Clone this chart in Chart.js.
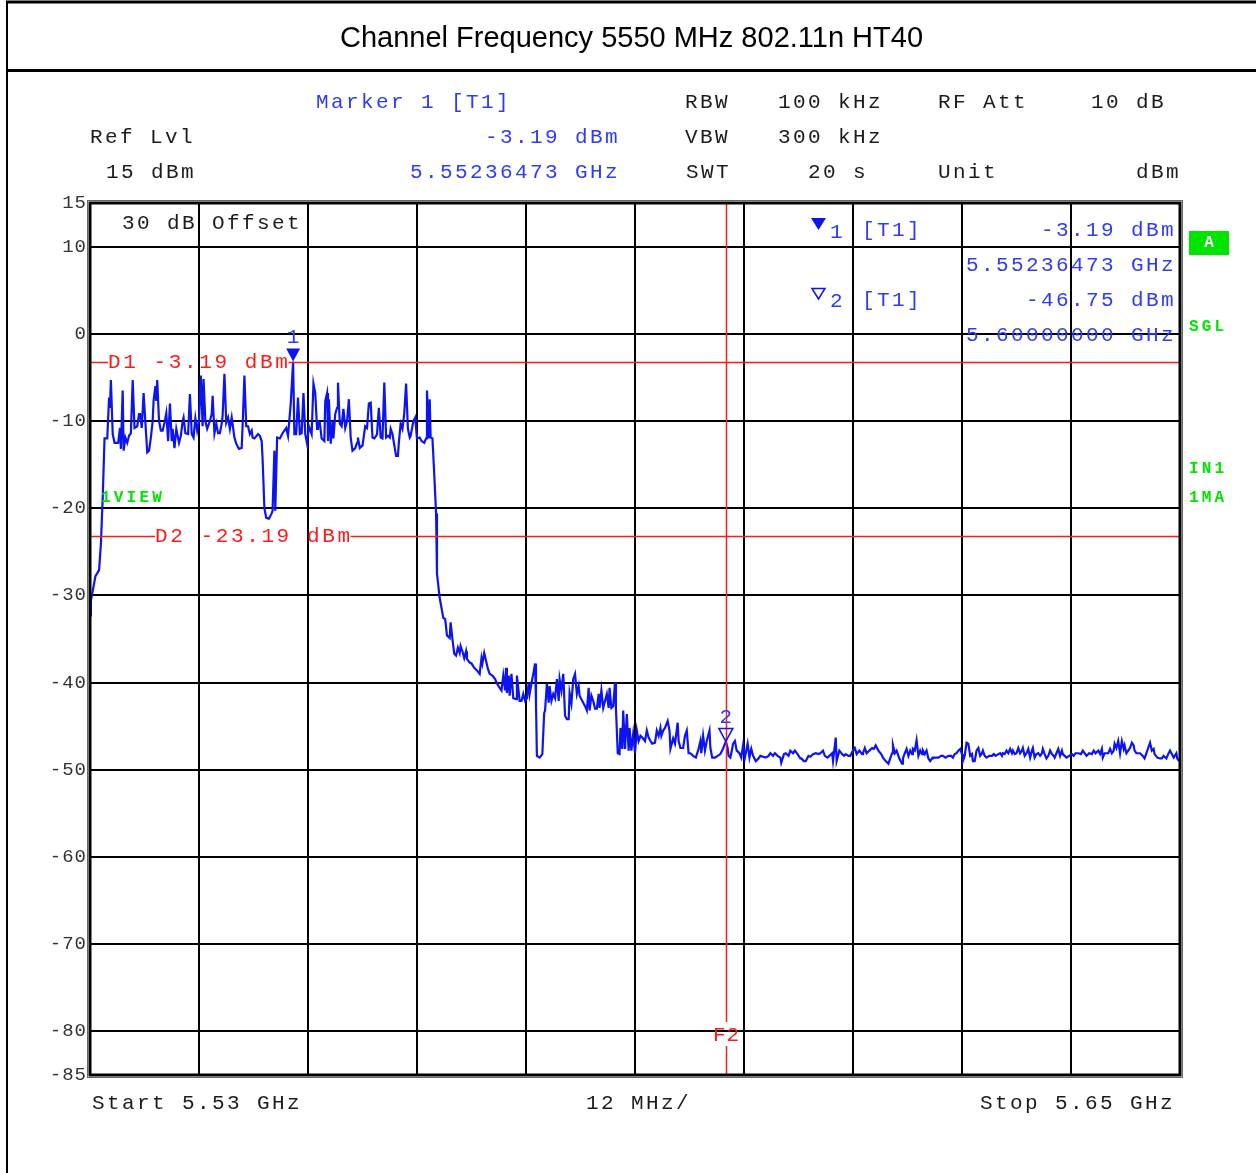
<!DOCTYPE html>
<html><head><meta charset="utf-8">
<script src="https://cdn.jsdelivr.net/npm/chart.js@4"></script>
<style>
html,body{margin:0;padding:0;background:#fff;}
#wrap{position:relative;width:1256px;height:1173px;overflow:hidden;background:#fff;}
#title{position:absolute;left:7px;top:3px;width:1249px;height:66px;text-align:center;font-family:"Liberation Sans",Arial,sans-serif;font-size:29px;line-height:68px;color:#000;}
canvas{position:absolute;left:0;top:0;}
</style></head><body>
<div id="wrap"><canvas id="c" width="1256" height="1173"></canvas><div id="title">Channel Frequency 5550 MHz 802.11n HT40</div></div>
<script>
// ---------------- DATA ----------------
const startMHz = 5530, stopMHz = 5650;
const xGridMHz = [5530, 5542, 5554, 5566, 5578, 5590, 5602, 5614, 5626, 5638, 5650];
const yTicks = [15, 10, 0, -10, -20, -30, -40, -50, -60, -70, -80, -85];

// trace: [frequency MHz, level dBm]
const bandTrace = [
[5530.0,-32.3],[5530.1,-30.6],[5530.6,-27.8],[5531.0,-27.1],[5531.2,-24.1],[5531.4,-18.8],[5531.6,-12.0],[5531.9,-12.0],
[5532.1,-7.3],[5532.2,-8.5],[5532.3,-5.3],[5532.5,-11.5],[5532.7,-12.5],[5533.1,-12.5],[5533.3,-10.8],[5533.4,-13.2],
[5533.6,-6.5],[5533.7,-13.4],[5533.9,-11.9],[5534.1,-12.5],[5534.3,-11.7],[5534.5,-11.4],[5534.7,-5.3],[5534.9,-10.8],
[5535.2,-10.6],[5535.4,-9.2],[5535.5,-9.1],[5535.7,-10.8],[5535.9,-6.8],[5536.2,-11.9],[5536.3,-13.6],[5536.5,-13.4],
[5536.7,-11.9],[5536.9,-10.0],[5537.0,-7.7],[5537.2,-6.0],[5537.3,-7.7],[5537.4,-5.3],[5537.6,-10.0],[5537.8,-11.1],
[5538.0,-11.1],[5538.2,-10.2],[5538.4,-9.1],[5538.6,-12.3],[5538.8,-8.0],[5539.0,-12.3],[5539.1,-10.9],[5539.3,-13.1],
[5539.5,-10.9],[5539.8,-12.5],[5540.0,-11.7],[5540.2,-10.0],[5540.3,-9.6],[5540.5,-11.4],[5540.8,-11.5],[5541.0,-6.9],
[5541.2,-11.5],[5541.4,-11.9],[5541.6,-9.7],[5541.8,-11.1],[5542.0,-10.0],[5542.2,-4.8],[5542.4,-10.6],[5542.5,-5.2],
[5542.7,-10.0],[5542.9,-10.9],[5543.2,-10.0],[5543.4,-9.2],[5543.5,-7.1],[5543.7,-11.4],[5543.9,-10.3],[5544.1,-11.4],
[5544.3,-11.4],[5544.5,-10.3],[5544.6,-9.4],[5544.8,-4.6],[5545.0,-10.2],[5545.2,-9.6],[5545.4,-10.9],[5545.6,-9.6],
[5545.9,-11.9],[5546.1,-12.6],[5546.4,-13.2],[5546.7,-13.1],[5546.8,-10.6],[5547.0,-4.8],[5547.2,-10.6],[5547.4,-10.6],
[5547.6,-11.5],[5547.8,-11.1],[5547.9,-11.9],[5548.1,-12.0],[5548.5,-11.5],[5548.7,-11.7],[5548.9,-12.3],[5549.0,-14.3],
[5549.2,-20.0],[5549.4,-21.1],[5549.7,-21.2],[5550.0,-20.6],[5550.1,-20.3],[5550.3,-13.4],[5550.4,-20.3],[5550.6,-11.9],
[5550.9,-12.0],[5551.2,-11.4],[5551.6,-10.8],[5551.8,-11.7],[5551.9,-11.7],[5552.1,-8.0],[5552.36,-3.19],[5552.5,-11.5],
[5552.7,-11.5],[5552.9,-7.3],[5553.1,-11.5],[5553.3,-11.4],[5553.5,-6.8],[5553.7,-11.5],[5553.9,-12.6],[5554.1,-10.6],
[5554.4,-11.5],[5554.6,-5.7],[5554.8,-6.8],[5555.0,-10.9],[5555.1,-10.0],[5555.3,-10.2],[5555.5,-12.0],[5555.8,-12.3],
[5555.9,-7.7],[5556.1,-6.8],[5556.2,-12.3],[5556.3,-7.5],[5556.5,-12.6],[5556.7,-10.0],[5556.8,-12.0],[5557.0,-9.2],
[5557.2,-8.5],[5557.3,-5.6],[5557.5,-10.3],[5557.7,-10.6],[5557.9,-8.6],[5558.1,-10.8],[5558.3,-10.0],[5558.5,-7.5],
[5558.7,-11.9],[5558.9,-13.4],[5559.2,-13.1],[5559.4,-12.5],[5559.5,-11.9],[5559.7,-13.1],[5560.0,-12.8],[5560.3,-10.6],
[5560.5,-10.8],[5560.7,-8.0],[5560.9,-7.9],[5561.1,-11.9],[5561.3,-12.0],[5561.5,-11.7],[5561.6,-11.5],[5561.8,-8.5],
[5562.0,-11.9],[5562.2,-12.0],[5562.4,-5.6],[5562.6,-11.9],[5562.8,-11.7],[5563.0,-11.9],[5563.1,-10.9],[5563.3,-11.5],
[5563.5,-12.8],[5563.7,-14.0],[5563.9,-14.0],[5564.0,-12.5],[5564.2,-10.3],[5564.4,-10.9],[5564.6,-9.1],[5564.8,-5.7],
[5565.0,-10.9],[5565.2,-11.9],[5565.3,-11.7],[5565.6,-10.0],[5565.8,-9.6],[5566.0,-12.0],[5566.3,-11.9],[5566.5,-12.3],
[5566.8,-12.5],[5567.0,-12.0],[5567.1,-6.5],[5567.3,-12.0],[5567.4,-7.5],[5567.5,-11.9],[5567.7,-12.0],[5567.9,-16.1],
[5568.1,-20.6],[5568.2,-27.5],[5568.5,-30.3],[5568.9,-32.6],[5569.1,-32.7],[5569.3,-34.6]
];
const skirtTrace = [
[5569.6,-34.9],[5569.7,-33.1],[5569.9,-35.0],[5570.1,-36.7],[5570.3,-36.9],[5570.5,-36.0],[5570.7,-36.6],[5570.8,-35.8],
[5571.0,-36.4],[5571.2,-37.2],[5571.4,-36.4],[5571.5,-37.3],[5571.8,-37.7],[5572.0,-37.8],[5572.3,-38.3],[5572.6,-38.6],
[5572.9,-39.0],[5573.1,-37.2],[5573.2,-37.8],[5573.4,-36.6],[5573.6,-37.5],[5573.8,-38.4],[5574.0,-39.0],[5574.3,-39.2],
[5574.6,-39.6],[5574.8,-40.1],[5575.1,-40.6],[5575.3,-40.9],[5575.5,-39.2],[5575.7,-40.9],[5575.8,-38.3],[5575.9,-41.2],
[5576.1,-39.2],[5576.2,-41.5],[5576.4,-39.0],[5576.6,-41.8],[5576.9,-41.9],[5577.0,-39.2],[5577.3,-42.1],[5577.5,-42.1],
[5577.7,-41.3],[5577.9,-42.1],[5578.1,-41.8],[5578.3,-40.0],[5578.4,-41.3],[5578.6,-40.1],[5578.8,-39.0],[5579.0,-37.8],
[5579.1,-42.4],[5579.2,-48.4],[5579.5,-48.6],[5579.8,-48.2],[5580.0,-43.5],[5580.1,-43.2],[5580.3,-40.1],[5580.5,-42.3],
[5580.6,-40.4],[5580.8,-42.1],[5581.0,-41.3],[5581.2,-41.8],[5581.4,-39.6],[5581.6,-42.1],[5581.7,-39.6],[5581.9,-40.9],
[5582.1,-39.0],[5582.3,-43.8],[5582.5,-44.2],[5582.7,-44.2],[5582.8,-41.2],[5583.0,-42.4],[5583.2,-39.6],[5583.4,-39.0],
[5583.6,-41.3],[5583.8,-40.4],[5583.9,-41.5],[5584.2,-42.1],[5584.5,-42.7],[5584.7,-43.2],[5584.9,-40.6],[5585.0,-43.2],
[5585.2,-41.5],[5585.4,-42.1],[5585.6,-43.0],[5585.8,-43.0],[5586.0,-41.3],[5586.1,-42.9],[5586.3,-40.9],[5586.5,-42.9],
[5586.7,-42.1],[5586.9,-41.3],[5587.1,-42.9],[5587.2,-40.6],[5587.4,-42.9],[5587.6,-42.7],[5587.8,-40.0],[5587.9,-42.9],
[5588.1,-48.1],[5588.3,-48.2],[5588.4,-45.2],[5588.6,-47.6],[5588.7,-43.2],[5588.9,-47.6],[5589.1,-43.6],[5589.3,-47.8],
[5589.4,-45.2],[5589.6,-47.8],[5589.8,-45.9],[5590.0,-48.1],[5590.2,-45.5],[5590.4,-46.7],[5590.6,-46.1],[5590.8,-46.3],
[5591.1,-46.7],[5591.3,-45.5],[5591.5,-46.3],[5591.7,-46.7],[5591.9,-47.0],[5592.2,-46.9],[5592.4,-45.5],[5592.6,-46.1],
[5592.8,-45.2],[5592.9,-46.1],[5593.1,-45.5],[5593.3,-45.2],[5593.6,-44.4],[5593.8,-45.5],[5593.9,-47.6],[5594.2,-46.4],
[5594.4,-47.0],[5594.7,-44.6],[5594.8,-46.7],[5595.0,-47.5],[5595.3,-47.5],[5595.5,-46.1],[5595.7,-45.5],[5595.9,-48.1],
[5596.1,-48.1],[5596.4,-48.4],[5596.7,-48.6],[5597.0,-47.6],[5597.2,-46.7],[5597.3,-48.1],[5597.5,-46.1],[5597.7,-47.8],
[5597.9,-46.7],[5598.2,-45.5],[5598.3,-47.5],[5598.5,-48.6],[5598.8,-48.6],[5599.1,-48.4],[5599.4,-48.2],[5599.6,-47.8]
];
const floorTrace = [
[5600.0,-46.75],[5600.2,-47.5],[5600.3,-48.4],[5600.5,-48.6],[5600.6,-48.1],[5600.8,-47.0],[5601.0,-46.7],[5601.2,-47.8],
[5601.5,-48.1],[5601.7,-48.6],[5601.9,-47.2],[5602.1,-48.6],[5602.4,-47.0],[5602.6,-48.6],[5602.8,-47.6],[5603.0,-48.4],
[5603.3,-49.0],[5603.6,-48.7],[5603.8,-48.4],[5604.1,-48.5],[5604.4,-48.6],[5604.7,-48.4],[5604.9,-48.1],[5605.2,-48.4],
[5605.4,-48.1],[5605.7,-48.4],[5606.0,-48.6],[5606.1,-49.2],[5606.4,-48.2],[5606.6,-48.1],[5606.9,-48.4],[5607.1,-47.8],
[5607.4,-48.1],[5607.6,-47.8],[5607.9,-48.2],[5608.2,-48.7],[5608.3,-48.7],[5608.6,-49.0],[5608.8,-49.0],[5609.1,-48.4],
[5609.3,-48.5],[5609.6,-48.2],[5609.9,-48.1],[5610.2,-48.2],[5610.4,-48.1],[5610.7,-47.8],[5610.9,-48.4],[5611.2,-48.6],
[5611.4,-48.4],[5611.7,-48.1],[5611.8,-49.0],[5612.1,-46.3],[5612.2,-49.0],[5612.5,-47.8],[5612.8,-48.2],[5613.0,-48.4],
[5613.2,-48.2],[5613.5,-48.4],[5613.7,-48.4],[5614.0,-47.8],[5614.2,-47.5],[5614.4,-48.2],[5614.7,-47.8],[5615.0,-48.2],
[5615.1,-48.1],[5615.3,-47.5],[5615.5,-48.1],[5615.8,-47.8],[5616.1,-47.5],[5616.3,-47.6],[5616.5,-47.2],[5616.8,-47.8],
[5617.1,-48.2],[5617.3,-48.6],[5617.6,-49.0],[5617.9,-49.3],[5618.1,-48.7],[5618.3,-48.1],[5618.4,-47.2],[5618.6,-48.1],
[5618.8,-47.8],[5619.1,-48.7],[5619.4,-49.3],[5619.5,-48.7],[5619.7,-48.1],[5619.9,-47.6],[5620.1,-48.4],[5620.3,-47.8],
[5620.5,-48.2],[5620.6,-47.6],[5620.8,-47.8],[5621.0,-46.6],[5621.2,-48.4],[5621.4,-47.8],[5621.6,-48.2],[5621.7,-47.8],
[5621.9,-48.2],[5622.1,-47.8],[5622.3,-48.7],[5622.5,-49.0],[5622.7,-48.7],[5622.8,-48.6],[5623.1,-48.6],[5623.4,-48.6],
[5623.7,-48.4],[5623.9,-48.4],[5624.2,-48.6],[5624.5,-48.4],[5624.8,-48.4],[5625.0,-48.6],[5625.2,-48.2],[5625.4,-48.1],
[5625.6,-47.8],[5625.8,-47.6],[5626.0,-48.2],[5626.1,-49.0],[5626.3,-48.4],[5626.5,-46.9],[5626.7,-47.0],[5626.9,-48.4],
[5627.1,-48.2],[5627.2,-49.0],[5627.4,-49.0],[5627.6,-47.8],[5627.8,-47.5],[5628.0,-48.4],[5628.2,-48.1],[5628.3,-47.8],
[5628.5,-48.4],[5628.7,-48.6],[5629.0,-48.4],[5629.3,-48.4],[5629.5,-48.2],[5629.7,-48.4],[5630.0,-48.2],[5630.2,-48.1],
[5630.4,-48.4],[5630.5,-48.1],[5630.7,-48.2],[5630.9,-47.8],[5631.1,-48.1],[5631.3,-47.6],[5631.5,-48.1],[5631.6,-47.8],
[5631.8,-48.2],[5632.0,-48.1],[5632.2,-47.5],[5632.4,-48.1],[5632.6,-47.8],[5632.7,-47.5],[5632.9,-48.4],[5633.1,-48.1],
[5633.3,-47.6],[5633.5,-48.6],[5633.7,-47.8],[5633.8,-47.5],[5634.0,-48.6],[5634.2,-48.2],[5634.4,-48.1],[5634.6,-48.4],
[5634.8,-48.1],[5634.9,-47.6],[5635.1,-48.2],[5635.3,-48.7],[5635.5,-48.4],[5635.7,-47.8],[5635.9,-48.2],[5636.1,-48.4],
[5636.2,-48.6],[5636.4,-48.1],[5636.6,-47.6],[5636.8,-48.4],[5637.0,-47.8],[5637.1,-48.2],[5637.3,-48.4],[5637.5,-48.6],
[5637.8,-48.4],[5638.1,-48.2],[5638.3,-48.4],[5638.5,-48.1],[5638.8,-48.1],[5639.1,-48.2],[5639.3,-47.8],[5639.5,-48.1],
[5639.7,-48.4],[5640.0,-48.1],[5640.3,-48.2],[5640.5,-47.8],[5640.7,-48.1],[5641.0,-47.8],[5641.2,-48.2],[5641.4,-47.6],
[5641.5,-48.6],[5641.7,-48.1],[5641.9,-48.1],[5642.1,-48.1],[5642.3,-47.6],[5642.5,-48.1],[5642.7,-47.8],[5642.8,-47.0],
[5643.0,-47.5],[5643.2,-46.7],[5643.4,-48.1],[5643.6,-46.7],[5643.8,-47.6],[5643.9,-47.2],[5644.1,-48.1],[5644.3,-47.8],
[5644.5,-47.5],[5644.7,-46.9],[5644.9,-47.2],[5645.0,-47.8],[5645.2,-48.1],[5645.6,-48.1],[5645.9,-48.4],[5646.1,-48.7],
[5646.3,-48.1],[5646.5,-47.5],[5646.7,-46.9],[5646.9,-47.8],[5647.1,-47.6],[5647.2,-48.2],[5647.5,-48.6],[5647.8,-48.7],
[5648.0,-48.7],[5648.2,-48.4],[5648.5,-48.7],[5648.7,-48.2],[5648.9,-47.8],[5649.1,-48.2],[5649.3,-48.6],[5649.6,-48.1],
[5649.7,-48.7],[5649.9,-49.0]
];

const markerFreqs = [5552.36473, 5600.0];
const markerLevels = [-3.19, -46.75];
const displayLines = [-3.19, -23.19];
const displayLineLabels = ['D1 -3.19 dBm', 'D2 -23.19 dBm'];
const freqLine = 5600.0;

// ---------------- STYLE ----------------
const MONO = '"Liberation Mono","DejaVu Sans Mono",monospace';
const BLUE = '#2f3cf2', TRACE = '#0c14f2', RED = '#ff1a1a', GREEN = '#00e400', INK = '#1c1c1c';
const FS = 21, LS = 2.4;

function txt(ctx, s, x, y, o) {
  o = o || {};
  ctx.save();
  ctx.font = (o.bold ? 'bold ' : '') + (o.size || FS) + 'px ' + MONO;
  ctx.letterSpacing = (o.ls !== undefined ? o.ls : LS) + 'px';
  ctx.fillStyle = o.color || INK;
  ctx.textAlign = o.align || 'left';
  ctx.textBaseline = 'middle';
  ctx.fillText(s, x, y + 1);
  ctx.restore();
}

const frame = {
  id: 'frame',
  beforeDraw(chart) {
    const c = chart.ctx;
    c.save();
    c.fillStyle = '#fff';
    c.fillRect(0, 0, chart.width, chart.height);
    c.strokeStyle = '#000';
    c.lineWidth = 3;
    c.beginPath(); c.moveTo(6, 2); c.lineTo(1256, 2); c.stroke();
    c.beginPath(); c.moveTo(6, 70.5); c.lineTo(1256, 70.5); c.stroke();
    c.lineWidth = 2;
    c.beginPath(); c.moveTo(7, 1); c.lineTo(7, 1173); c.stroke();
    c.restore();
    chart.ctx.letterSpacing = '1px';
  },
  afterDatasetsDraw(chart) {
    const c = chart.ctx, xs = chart.scales.x, ys = chart.scales.y, a = chart.chartArea;
    c.letterSpacing = '0px';
    // display lines D1 / D2
    const labelX = [108, 155];
    displayLines.forEach((v, i) => {
      const py = Math.round(ys.getPixelForValue(v)) + 0.5;
      c.save();
      c.font = FS + 'px ' + MONO; c.letterSpacing = (LS + 0.2) + 'px';
      const w = c.measureText(displayLineLabels[i]).width;
      c.strokeStyle = RED; c.lineWidth = 1.5;
      c.beginPath(); c.moveTo(a.left, py); c.lineTo(labelX[i], py); c.stroke();
      c.beginPath(); c.moveTo(labelX[i] + w - 2, py); c.lineTo(a.right, py); c.stroke();
      c.restore();
      txt(c, displayLineLabels[i], labelX[i], py - 1, {color: RED, ls: LS + 0.2});
    });
    // F2 frequency line
    const fx = Math.round(xs.getPixelForValue(freqLine)) + 0.5;
    c.save();
    c.strokeStyle = RED; c.lineWidth = 1.5;
    c.beginPath(); c.moveTo(fx, a.top); c.lineTo(fx, 1022); c.stroke();
    c.beginPath(); c.moveTo(fx, 1046); c.lineTo(fx, a.bottom); c.stroke();
    c.restore();
    txt(c, 'F2', fx, 1034, {color: RED, align: 'center', ls: 1});
    // markers
    markerFreqs.forEach((f, i) => {
      const px = xs.getPixelForValue(f), py = ys.getPixelForValue(markerLevels[i]);
      c.save();
      c.beginPath();
      c.moveTo(px - 7, py - 13); c.lineTo(px + 7, py - 13); c.lineTo(px, py); c.closePath();
      if (i === 0) { c.fillStyle = TRACE; c.fill(); }
      else { c.strokeStyle = TRACE; c.lineWidth = 1.5; c.stroke(); }
      c.restore();
      txt(c, String(i + 1), px, py - 25, {color: BLUE, align: 'center', ls: 0});
    });
  },
  afterDraw(chart) {
    const c = chart.ctx, a = chart.chartArea;
    c.save();
    c.letterSpacing = '0px';
    c.strokeStyle = '#000'; c.lineWidth = 3;
    c.strokeRect(a.left, a.top, a.right - a.left, a.bottom - a.top);
    c.strokeStyle = '#666'; c.lineWidth = 1;
    c.strokeRect(a.left - 2.5, a.top - 2.5, a.right - a.left + 5, a.bottom - a.top + 5);
    c.restore();

    // header
    txt(c, 'Marker 1 [T1]', 316, 101, {color: BLUE});
    txt(c, 'RBW', 685, 101);
    txt(c, '100 kHz', 778, 101);
    txt(c, 'RF Att', 938, 101);
    txt(c, '10 dB', 1091, 101);
    txt(c, 'Ref Lvl', 90, 136);
    txt(c, '-3.19 dBm', 485, 136, {color: BLUE});
    txt(c, 'VBW', 685, 136);
    txt(c, '300 kHz', 778, 136);
    txt(c, '15 dBm', 106, 171);
    txt(c, '5.55236473 GHz', 410, 171, {color: BLUE});
    txt(c, 'SWT', 686, 171);
    txt(c, '20 s', 808, 171);
    txt(c, 'Unit', 938, 171);
    txt(c, 'dBm', 1136, 171);

    // in-plot labels
    txt(c, '30 dB Offset', 122, 222);
    // marker table
    c.save();
    c.fillStyle = TRACE;
    c.beginPath(); c.moveTo(811, 218); c.lineTo(826, 218); c.lineTo(818.5, 230); c.closePath(); c.fill();
    c.strokeStyle = TRACE; c.lineWidth = 1.5;
    c.beginPath(); c.moveTo(812, 288.5); c.lineTo(825, 288.5); c.lineTo(818.5, 299); c.closePath(); c.stroke();
    c.restore();
    txt(c, '1', 830, 231, {color: BLUE});
    txt(c, '[T1]', 862, 229, {color: BLUE});
    txt(c, '-3.19 dBm', 966 + 15 * 5, 229, {color: BLUE});
    txt(c, '5.55236473 GHz', 966, 264, {color: BLUE});
    txt(c, '2', 830, 300, {color: BLUE});
    txt(c, '[T1]', 862, 299, {color: BLUE});
    txt(c, '-46.75 dBm', 966 + 15 * 4, 299, {color: BLUE});
    txt(c, '5.60000000 GHz', 966, 334, {color: BLUE});

    // status labels (green)
    const g = {color: GREEN, bold: true, size: 16, ls: 3.2};
    txt(c, '1VIEW', 101, 497, g);
    c.save(); c.fillStyle = GREEN; c.fillRect(1189, 231, 40, 24); c.restore();
    txt(c, 'A', 1209, 242, {color: '#fff', bold: true, size: 16, ls: 0, align: 'center'});
    txt(c, 'SGL', 1189, 326, g);
    txt(c, 'IN1', 1189, 468, g);
    txt(c, '1MA', 1189, 497, g);

    // footer
    txt(c, 'Start 5.53 GHz', 92, 1102);
    txt(c, '12 MHz/', 586, 1102);
    txt(c, 'Stop 5.65 GHz', 980, 1102);
  }
};

const traceData = bandTrace.concat(skirtTrace, floorTrace).map(p => ({x: p[0], y: p[1]}));

new Chart(document.getElementById('c').getContext('2d'), {
  type: 'line',
  data: {datasets: [{data: traceData, borderColor: TRACE, borderWidth: 2.2, pointRadius: 0, tension: 0, fill: false}]},
  options: {
    responsive: false, animation: false, devicePixelRatio: 1,
    layout: {padding: {top: 203, right: 76, left: 0, bottom: 0}},
    plugins: {legend: {display: false}, tooltip: {enabled: false}, title: {display: false}},
    scales: {
      x: {
        type: 'linear', min: startMHz, max: stopMHz,
        afterBuildTicks: s => { s.ticks = xGridMHz.map(v => ({value: v})); },
        afterFit: s => { s.height = 98; },
        ticks: {display: false},
        grid: {color: '#000', lineWidth: 2, drawTicks: false},
        border: {display: false}
      },
      y: {
        type: 'linear', min: -85, max: 15,
        afterBuildTicks: s => { s.ticks = yTicks.map(v => ({value: v})); },
        afterFit: s => { s.width = 90; },
        ticks: {font: {family: MONO, size: 19}, color: '#333', padding: 3, autoSkip: false},
        grid: {color: '#000', lineWidth: 2, drawTicks: false},
        border: {display: false}
      }
    }
  },
  plugins: [frame]
});
</script>
</body></html>
